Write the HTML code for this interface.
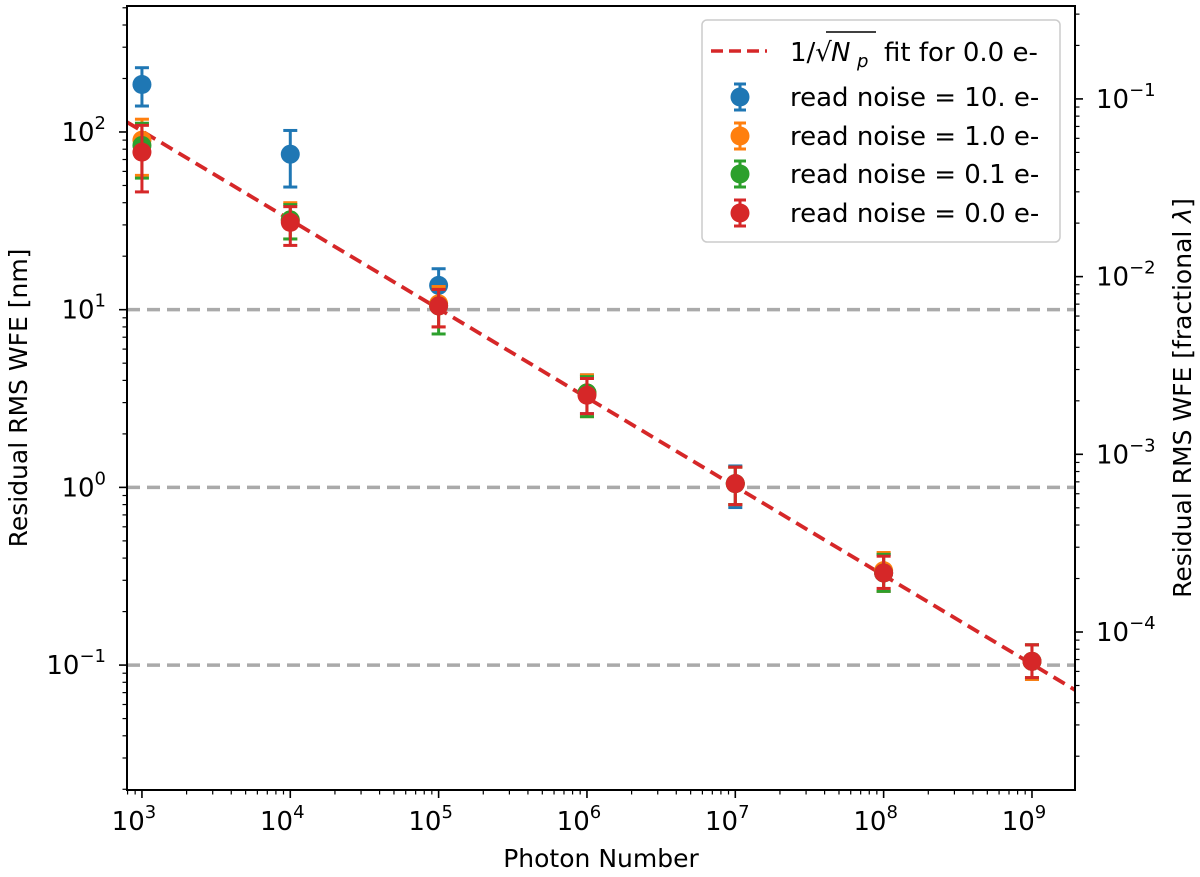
<!DOCTYPE html>
<html><head><meta charset="utf-8"><style>
html,body{margin:0;padding:0;background:#fff}
svg{display:block;font-family:"DejaVu Sans","Liberation Sans",sans-serif}
</style></head><body>
<svg id="chart" width="1200" height="877" viewBox="0 0 1200 877">
<g id="grid"></g>
<g id="fit"></g>
<g id="series"></g>
<rect x="127" y="6" width="948" height="784" fill="none" stroke="#000" stroke-width="2"/>
<g id="axes"></g>
<text x="601" y="867" font-size="25" text-anchor="middle">Photon Number</text>
<text transform="translate(27,398) rotate(-90)" font-size="25" text-anchor="middle">Residual RMS WFE [nm]</text>
<text transform="translate(1191,398) rotate(-90)" font-size="25" text-anchor="middle">Residual RMS WFE [fractional <tspan font-style="italic">λ</tspan>]</text>
<g>
<rect x="702" y="20" width="358" height="222" rx="5" fill="#fff" fill-opacity="0.8" stroke="#ccc" stroke-width="1.5"/>
<line x1="711" y1="51" x2="767" y2="51" stroke="#d62728" stroke-width="3.5" stroke-dasharray="12,6"/>
<g font-size="26">
<text x="790" y="61">1/√</text>
<text x="831" y="61" font-style="italic">N</text>
<text x="857" y="67" font-size="18" font-style="italic">p</text>
<text x="884" y="61">fit for 0.0 e-</text>
</g>
<line x1="826" y1="32" x2="876" y2="32" stroke="#000" stroke-width="1.6"/>
<g id="legendItems"></g>
</g>
</svg>
<script>
const xTicks=[3,4,5,6,7,8,9];
const yTicks=[-1,0,1,2];
const rTicks=[-4,-3,-2,-1];
const refLevels=[0.1,1,10];
const photons=[1e3,1e4,1e5,1e6,1e7,1e8,1e9];
const seriesNames=["read noise = 10. e-","read noise = 1.0 e-","read noise = 0.1 e-","read noise = 0.0 e-"];
const seriesColors=["#1f77b4","#ff7f0e","#2ca02c","#d62728"];
const blueVals=[185,75,13.7,3.4,1.05,0.33,0.105];
const blueLo=[140,49,11,2.6,0.77,0.26,0.083];
const blueHi=[230,102,17,4.3,1.32,0.42,0.13];
const orangeVals=[90,32,10.8,3.4,1.05,0.34,0.105];
const orangeLo=[57,25,8,2.5,0.8,0.26,0.083];
const orangeHi=[118,40,13.5,4.3,1.3,0.43,0.13];
const greenVals=[84,32,10.5,3.4,1.05,0.33,0.105];
const greenLo=[55,25,7.3,2.5,0.8,0.26,0.085];
const greenHi=[112,39,13,4.2,1.3,0.42,0.13];
const redVals=[77,31,10.5,3.3,1.05,0.33,0.105];
const redLo=[46,23,8,2.6,0.8,0.27,0.085];
const redHi=[109,38,13,4.1,1.3,0.41,0.13];
const fitAmp=3200;
const lambdaNm=1535;

const NS="http://www.w3.org/2000/svg";
const X0=127,X1=1075,Y0=6,Y1=790;
const xMin=Math.log10(793),xMax=Math.log10(1.95e9);
const yMin=-1.703,yMax=2.709;
const sx=v=>X0+(Math.log10(v)-xMin)/(xMax-xMin)*(X1-X0);
const sy=v=>Y1-(Math.log10(v)-yMin)/(yMax-yMin)*(Y1-Y0);
function mk(tag,attrs,parent){const e=document.createElementNS(NS,tag);for(const k in attrs)e.setAttribute(k,attrs[k]);parent.appendChild(e);return e;}
const axes=document.getElementById('axes');
function pow10Label(x,y,exp,anchor,name){
  const t=mk('text',{x:x,y:y,'font-size':26,'text-anchor':anchor},axes);
  
  
  t.innerHTML='10<tspan font-size="18" dy="-12">'+(exp<0?'−'+(-exp):exp)+'</tspan>';
}
for(let d=2;d<=9;d++){for(let m=1;m<10;m++){const v=m*Math.pow(10,d);const px=sx(v);if(px<X0-0.5||px>X1+0.5)continue;
  const l=mk('line',{x1:px,x2:px,y1:Y1,y2:Y1+(m==1?8:4.5),stroke:'#000','stroke-width':m==1?1.6:1.2},axes);
  
  }}
xTicks.forEach(e=>pow10Label(sx(Math.pow(10,e))-8,830,e,'middle','x-tick-label'));
for(let d=-2;d<=2;d++){for(let m=1;m<10;m++){const v=m*Math.pow(10,d);const py=sy(v);if(py<Y0-0.5||py>Y1+0.5)continue;
  const l=mk('line',{x1:X0,x2:X0-(m==1?8:4.5),y1:py,y2:py,stroke:'#000','stroke-width':m==1?1.6:1.2},axes);
  
  }}
yTicks.forEach(e=>pow10Label(106,sy(Math.pow(10,e))+9,e,'end','y-tick-label'));
const syR=v=>sy(v*lambdaNm);
for(let d=-6;d<=0;d++){for(let m=1;m<10;m++){const v=m*Math.pow(10,d);const py=syR(v);if(py<Y0-0.5||py>Y1+0.5)continue;
  const l=mk('line',{x1:X1,x2:X1+(m==1?8:4.5),y1:py,y2:py,stroke:'#000','stroke-width':m==1?1.6:1.2},axes);
  
  }}
rTicks.forEach(e=>pow10Label(1096,syR(Math.pow(10,e))+9,e,'start','right-tick-label'));
const grid=document.getElementById('grid');
refLevels.forEach(v=>{const l=mk('line',{x1:X0,x2:X1,y1:sy(v),y2:sy(v),stroke:'#aaa','stroke-width':3.5,'stroke-dasharray':'13,7'},grid);
  
  });
const fitG=document.getElementById('fit');
const fA=793,fB=1.95e9;
const fl=mk('line',{x1:sx(fA),y1:sy(fitAmp/Math.sqrt(fA)),x2:sx(fB),y2:sy(fitAmp/Math.sqrt(fB)),stroke:'#d62728','stroke-width':3.8,'stroke-dasharray':'13,7'},fitG);


const vals=[blueVals,orangeVals,greenVals,redVals],los=[blueLo,orangeLo,greenLo,redLo],his=[blueHi,orangeHi,greenHi,redHi];
const sG=document.getElementById('series');
const cls=['blue','orange','green','red'];
vals.forEach((vs,s)=>{const g=mk('g',{},sG);
  
  
  const c=seriesColors[s];
  vs.forEach((v,i)=>{const px=sx(photons[i]),pl=sy(los[s][i]),ph=sy(his[s][i]);
    mk('line',{x1:px,x2:px,y1:pl,y2:ph,stroke:c,'stroke-width':3},g);
    mk('line',{x1:px-7,x2:px+7,y1:pl,y2:pl,stroke:c,'stroke-width':3},g);
    mk('line',{x1:px-7,x2:px+7,y1:ph,y2:ph,stroke:c,'stroke-width':3},g);
    const p=mk('circle',{cx:px,cy:sy(v),r:9.5,fill:c},g);
    
    });});
const lg=document.getElementById('legendItems');
const rows=[97,136,174,213];
seriesNames.forEach((n,s)=>{const g=mk('g',{},lg);
  
  
  const c=seriesColors[s],cx=740,cy=rows[s];
  mk('line',{x1:cx,x2:cx,y1:cy-13,y2:cy+13,stroke:c,'stroke-width':3},g);
  mk('line',{x1:cx-6,x2:cx+6,y1:cy-13,y2:cy-13,stroke:c,'stroke-width':3},g);
  mk('line',{x1:cx-6,x2:cx+6,y1:cy+13,y2:cy+13,stroke:c,'stroke-width':3},g);
  mk('circle',{cx:cx,cy:cy,r:9.5,fill:c},g);
  const t=mk('text',{x:790,y:cy+9,'font-size':26},g);t.textContent=n;});
</script>
</body></html>
